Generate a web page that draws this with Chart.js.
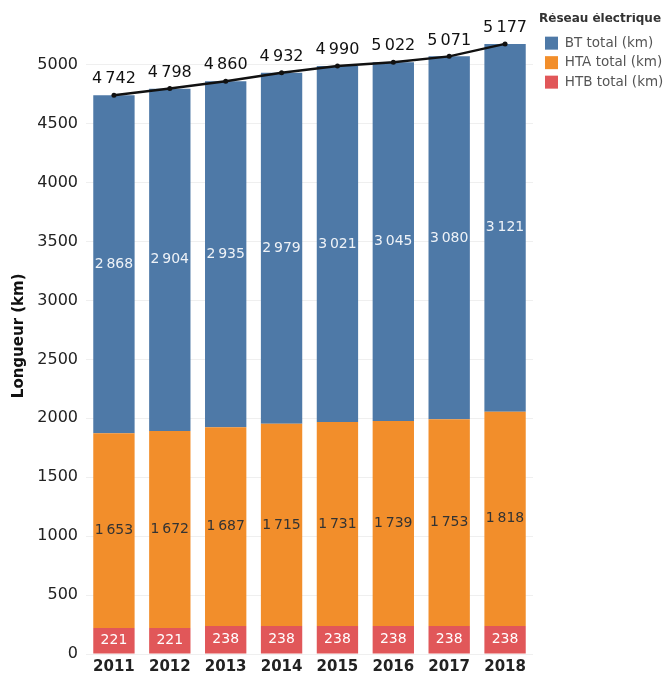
<!DOCTYPE html>
<html>
<head>
<meta charset="utf-8">
<script src="https://cdn.jsdelivr.net/npm/chart.js@4/dist/chart.umd.min.js"></script>
<style>
  html, body { margin: 0; padding: 0; background: #fff; overflow: hidden; }
  #wrap { width: 670px; height: 677px; position: relative; }
  canvas { display: block; }
</style>
</head>
<body>
<div id="wrap"><canvas id="c" width="670" height="677"></canvas></div>
<script>
const years = ['2011', '2012', '2013', '2014', '2015', '2016', '2017', '2018'];
const htbValues = [221, 221, 238, 238, 238, 238, 238, 238];
const htaValues = [1653, 1672, 1687, 1715, 1731, 1739, 1753, 1818];
const btValues = [2868, 2904, 2935, 2979, 3021, 3045, 3080, 3121];
const totalValues = [4742, 4798, 4860, 4932, 4990, 5022, 5071, 5177];
const yTickValues = [0, 500, 1000, 1500, 2000, 2500, 3000, 3500, 4000, 4500, 5000];

const FONT = "'DejaVu Sans', sans-serif";
const fmt = v => String(v).replace(/\B(?=(\d{3})+(?!\d))/g, '\u2009');

const labelPlugin = {
  id: 'segLabels',
  afterInit(chart) {
    const lg = chart.legend;
    if (lg) {
      const orig = lg.fit;
      lg.fit = function () { orig.call(this); this.width = 137; };
    }
  },
  afterLayout(chart) {
    if (chart.legend) { chart.legend.left += 6; chart.legend.right += 6; }
  },
  afterDatasetsDraw(chart) {
    const ctx = chart.ctx;
    ctx.save();
    ctx.textAlign = 'center';
    ctx.textBaseline = 'middle';
    chart.data.datasets.forEach((ds, i) => {
      const meta = chart.getDatasetMeta(i);
      if (meta.hidden) return;
      meta.data.forEach((el, j) => {
        const v = ds.data[j];
        if (ds.type === 'line') {
          ctx.font = "16px " + FONT;
          ctx.fillStyle = '#111';
          ctx.fillText(fmt(v), el.x, el.y - 16);
        } else {
          ctx.font = "14px " + FONT;
          ctx.fillStyle = ds.labelColor;
          ctx.fillText(fmt(v), el.x, (el.y + el.base) / 2);
        }
      });
    });
    ctx.restore();
  }
};

new Chart(document.getElementById('c'), {
  data: {
    labels: years,
    datasets: [
      { type: 'bar', label: 'HTB total (km)', data: htbValues, backgroundColor: '#e15759', labelColor: '#ffffff', stack: 'net', barPercentage: 0.74, categoryPercentage: 1.0 },
      { type: 'bar', label: 'HTA total (km)', data: htaValues, backgroundColor: '#f28e2b', labelColor: '#333333', stack: 'net', barPercentage: 0.74, categoryPercentage: 1.0 },
      { type: 'bar', label: 'BT total (km)', data: btValues, backgroundColor: '#4e79a7', labelColor: '#eef2f7', stack: 'net', barPercentage: 0.74, categoryPercentage: 1.0 },
      { type: 'line', label: 'Total', data: totalValues, borderColor: '#111', backgroundColor: '#111', borderWidth: 2.5, pointRadius: 2.5, pointBackgroundColor: '#111', pointBorderWidth: 0, tension: 0, stack: 'total', order: -1 }
    ]
  },
  options: {
    responsive: false,
    animation: false,
    layout: { padding: { top: 13, right: 0, bottom: 2, left: 0 } },
    plugins: {
      tooltip: { enabled: false },
      legend: {
        position: 'right',
        align: 'start',
        reverse: true,
        title: { display: true, text: 'Réseau électrique', color: '#333', font: { family: FONT, size: 12, weight: 'bold' }, padding: { top: 0, bottom: 3 }, position: 'start' },
        labels: {
          filter: item => item.text !== 'Total',
          boxWidth: 13, boxHeight: 13, padding: 6,
          color: '#555',
          font: { family: FONT, size: 13.5 }
        }
      }
    },
    scales: {
      x: {
        stacked: true,
        grid: { display: false, drawTicks: false },
        border: { display: false },
        ticks: { color: '#222', font: { family: FONT, size: 15, weight: 'bold' }, padding: 4 },
        afterFit: s => { s.height = 21; }
      },
      y: {
        stacked: true,
        min: 0,
        max: 5400,
        afterBuildTicks: scale => { scale.ticks = yTickValues.map(v => ({ value: v })); },
        afterFit: s => { s.width = 86; },
        grid: { color: '#efefef', drawTicks: false },
        border: { display: false },
        ticks: { color: '#222', font: { family: FONT, size: 16 }, padding: 8, callback: v => String(v) },
        title: { display: true, text: 'Longueur (km)', color: '#111', font: { family: FONT, size: 15, weight: 'bold' }, padding: { top: 10, bottom: 0 } }
      }
    }
  },
  plugins: [labelPlugin]
});
</script>
</body>
</html>
